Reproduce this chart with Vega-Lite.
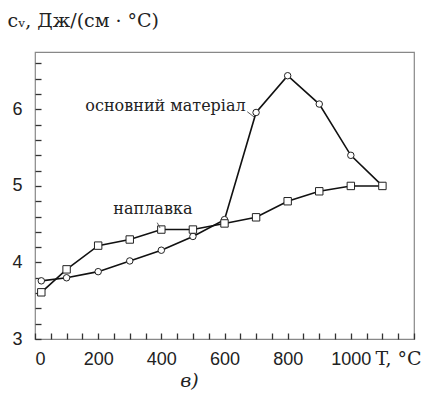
{
  "$schema": "https://vega.github.io/schema/vega-lite/v6.json",
  "autosize": "none",
  "width": 379,
  "height": 287,
  "padding": {"left": 35, "top": 52, "right": 16, "bottom": 55},
  "background": "white",
  "title": {"text": "в)", "orient": "bottom", "font": "DejaVu Serif", "fontStyle": "italic", "fontWeight": "normal", "fontSize": 19, "color": "#222", "dx": -35, "offset": 4},
  "config": {
    "view": {"stroke": "#888", "strokeWidth": 1.2},
    "axis": {"grid": false, "domain": false, "ticks": true, "tickColor": "#444", "tickWidth": 1.3, "labelFont": "Liberation Sans", "labelFontSize": 18, "labelColor": "#222"}
  },
  "datasets": {
    "curves": [
      {"s": "base", "x": 20, "y": 3.76},
      {"s": "base", "x": 100, "y": 3.80},
      {"s": "base", "x": 200, "y": 3.88},
      {"s": "base", "x": 300, "y": 4.02},
      {"s": "base", "x": 400, "y": 4.16},
      {"s": "base", "x": 500, "y": 4.34},
      {"s": "base", "x": 600, "y": 4.56},
      {"s": "base", "x": 700, "y": 5.96},
      {"s": "base", "x": 800, "y": 6.44},
      {"s": "base", "x": 900, "y": 6.07},
      {"s": "base", "x": 1000, "y": 5.40},
      {"s": "base", "x": 1100, "y": 5.00},
      {"s": "clad", "x": 20, "y": 3.61},
      {"s": "clad", "x": 100, "y": 3.91},
      {"s": "clad", "x": 200, "y": 4.22},
      {"s": "clad", "x": 300, "y": 4.30},
      {"s": "clad", "x": 400, "y": 4.43},
      {"s": "clad", "x": 500, "y": 4.43},
      {"s": "clad", "x": 600, "y": 4.51},
      {"s": "clad", "x": 700, "y": 4.59},
      {"s": "clad", "x": 800, "y": 4.80},
      {"s": "clad", "x": 900, "y": 4.93},
      {"s": "clad", "x": 1000, "y": 5.00},
      {"s": "clad", "x": 1100, "y": 5.00}
    ],
    "labelsR": [
      {"t": "основний матеріал", "x": 667, "y": 5.98}
    ],
    "labelsL": [
      {"t": "наплавка", "x": 248, "y": 4.63}
    ],
    "leaders": [
      {"x": 672, "y": 5.97, "x2": 694, "y2": 5.90},
      {"x": 387, "y": 4.52, "x2": 396, "y2": 4.45}
    ]
  },
  "layer": [
    {
      "data": {"name": "curves"},
      "mark": {"type": "line", "color": "#111", "strokeWidth": 1.6},
      "encoding": {
        "x": {"field": "x", "type": "quantitative", "scale": {"domain": [0, 1200], "nice": false, "zero": false},
          "axis": {"orient": "bottom", "tickCount": 24,
            "labelExpr": "(datum.value % 200 === 0 && datum.value <= 1000) ? datum.value : ''",
            "tickSize": -6, "ticks": true, "tickColor": "#333",
            "labelPadding": 31, "labelBaseline": "alphabetic",
            "title": "T, °C", "titleFont": "DejaVu Serif", "titleFontSize": 19, "titleFontWeight": "normal", "titleColor": "#222", "titleAngle": 0, "titleAlign": "left", "titleBaseline": "alphabetic", "titleX": 340, "titleY": 25}},
        "y": {"field": "y", "type": "quantitative", "scale": {"domain": [3, 6.75], "nice": false, "zero": false},
          "axis": {"orient": "left", "tickCount": 15,
            "labelExpr": "datum.value % 1 === 0 ? datum.value : ''",
            "tickSize": -6, "ticks": true, "tickColor": "#333",
            "labelPadding": 19,
            "title": "cᵥ, Дж/(см · °C)", "titleFont": "DejaVu Serif", "titleFontSize": 19, "titleFontWeight": "normal", "titleColor": "#222", "titleAngle": 0, "titleAlign": "left", "titleBaseline": "alphabetic", "titleX": -28, "titleY": -26}},
        "detail": {"field": "s"}
      }
    },
    {
      "data": {"name": "curves"},
      "mark": {"type": "point", "filled": true, "fill": "white", "stroke": "#222", "strokeWidth": 1, "opacity": 1},
      "encoding": {
        "x": {"field": "x", "type": "quantitative"},
        "y": {"field": "y", "type": "quantitative"},
        "shape": {"field": "s", "type": "nominal", "scale": {"domain": ["base", "clad"], "range": ["circle", "square"]}, "legend": null},
        "size": {"field": "s", "type": "nominal", "scale": {"domain": ["base", "clad"], "range": [42, 55]}, "legend": null}
      }
    },
    {
      "data": {"name": "leaders"},
      "mark": {"type": "rule", "color": "#333", "strokeWidth": 0.8},
      "encoding": {
        "x": {"field": "x", "type": "quantitative"},
        "y": {"field": "y", "type": "quantitative"},
        "x2": {"field": "x2"},
        "y2": {"field": "y2"}
      }
    },
    {
      "data": {"name": "labelsR"},
      "mark": {"type": "text", "font": "DejaVu Serif", "fontSize": 16, "color": "#222", "baseline": "alphabetic", "align": "right"},
      "encoding": {
        "x": {"field": "x", "type": "quantitative"},
        "y": {"field": "y", "type": "quantitative"},
        "text": {"field": "t"}
      }
    },
    {
      "data": {"name": "labelsL"},
      "mark": {"type": "text", "font": "DejaVu Serif", "fontSize": 16, "color": "#222", "baseline": "alphabetic", "align": "left"},
      "encoding": {
        "x": {"field": "x", "type": "quantitative"},
        "y": {"field": "y", "type": "quantitative"},
        "text": {"field": "t"}
      }
    }
  ]
}
